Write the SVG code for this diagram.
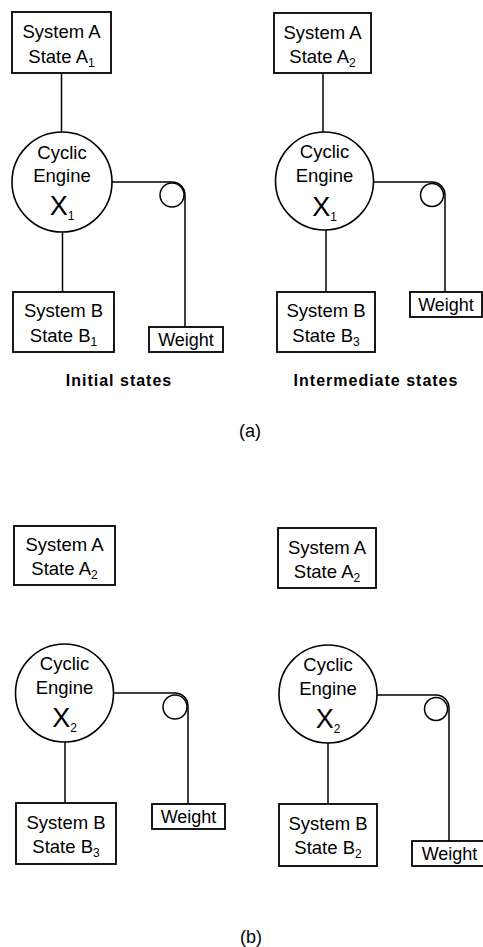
<svg xmlns="http://www.w3.org/2000/svg" width="483" height="947" viewBox="0 0 483 947">
<style>
  .box { fill: #fff; stroke: #000; stroke-width: 1.8; }
  .eng { fill: #fff; stroke: #000; stroke-width: 1.6; }
  .pul { fill: #fff; stroke: #000; stroke-width: 1.5; }
  .ln { fill: none; stroke: #000; stroke-width: 1.5; }
  text { font-family: "Liberation Sans", Arial, sans-serif; fill: #000; text-anchor: middle; }
  .t { font-size: 18.5px; }
  .w { font-size: 18px; }
  .x { font-size: 27px; font-weight: 300; }
  .sub { font-size: 12px; }
  .cap { font-size: 16px; font-weight: bold; letter-spacing: 1px; }
  .lab { font-size: 18px; }
</style>
<rect width="483" height="947" fill="#fff"/>

<g id="connectors">
  <!-- panel 1 -->
  <line class="ln" x1="61.5" y1="73" x2="61.5" y2="132"/>
  <line class="ln" x1="62.5" y1="232" x2="62.5" y2="292"/>
  <path class="ln" d="M112,182 H172 A13,13 0 0 1 185,195 V327"/>
  <!-- panel 2 -->
  <line class="ln" x1="323" y1="73" x2="323" y2="132"/>
  <line class="ln" x1="326" y1="230" x2="326" y2="292"/>
  <path class="ln" d="M373,182 H432 A13,13 0 0 1 445,195 V292"/>
  <!-- panel 3 -->
  <line class="ln" x1="65" y1="742" x2="65" y2="803"/>
  <path class="ln" d="M114,693 H175 A13,13 0 0 1 188,706 V804"/>
  <!-- panel 4 -->
  <line class="ln" x1="328" y1="743" x2="328" y2="804"/>
  <path class="ln" d="M377,695 H436 A13,13 0 0 1 449,708 V841"/>
</g>

<!-- Panel 1: Initial states -->
<g id="p1-sysA">
  <rect class="box" x="12" y="12" width="99" height="61"/>
  <text class="t" x="61.5" y="38">System A</text>
  <text class="t" x="61.5" y="63">State A<tspan class="sub" dy="4">1</tspan></text>
</g>
<g id="p1-engine">
  <circle class="eng" cx="62" cy="182" r="50"/>
  <text class="t" x="62" y="159">Cyclic</text>
  <text class="t" x="62" y="182">Engine</text>
  <text class="x" x="62" y="215">X<tspan class="sub" dy="5">1</tspan></text>
</g>
<g id="p1-pulley"><circle class="pul" cx="172" cy="195" r="12"/></g>
<g id="p1-sysB">
  <rect class="box" x="13" y="292" width="101" height="60"/>
  <text class="t" x="63.5" y="317">System B</text>
  <text class="t" x="63.5" y="342">State B<tspan class="sub" dy="4">1</tspan></text>
</g>
<g id="p1-weight">
  <rect class="box" x="149" y="327" width="74" height="25"/>
  <text class="w" x="186" y="345.5">Weight</text>
</g>
<text id="p1-caption" class="cap" x="119" y="386">Initial states</text>

<!-- Panel 2: Intermediate states -->
<g id="p2-sysA">
  <rect class="box" x="274" y="13" width="97" height="60"/>
  <text class="t" x="322.5" y="39">System A</text>
  <text class="t" x="322.5" y="63">State A<tspan class="sub" dy="4">2</tspan></text>
</g>
<g id="p2-engine">
  <circle class="eng" cx="324.5" cy="181" r="49"/>
  <text class="t" x="324.5" y="158">Cyclic</text>
  <text class="t" x="324.5" y="182">Engine</text>
  <text class="x" x="324.5" y="216">X<tspan class="sub" dy="5">1</tspan></text>
</g>
<g id="p2-pulley"><circle class="pul" cx="432" cy="195" r="11.5"/></g>
<g id="p2-sysB">
  <rect class="box" x="277" y="292" width="98" height="60"/>
  <text class="t" x="326" y="317">System B</text>
  <text class="t" x="326" y="342">State B<tspan class="sub" dy="4">3</tspan></text>
</g>
<g id="p2-weight">
  <rect class="box" x="410" y="292" width="72" height="25"/>
  <text class="w" x="446" y="310.5">Weight</text>
</g>
<text id="p2-caption" class="cap" x="376" y="386">Intermediate states</text>

<text id="label-a" class="lab" x="250" y="437">(a)</text>

<!-- Panel 3 -->
<g id="p3-sysA">
  <rect class="box" x="14" y="526" width="101" height="59"/>
  <text class="t" x="64.5" y="551">System A</text>
  <text class="t" x="64.5" y="575">State A<tspan class="sub" dy="4">2</tspan></text>
</g>
<g id="p3-engine">
  <circle class="eng" cx="64.5" cy="693" r="49"/>
  <text class="t" x="64.5" y="670">Cyclic</text>
  <text class="t" x="64.5" y="694">Engine</text>
  <text class="x" x="64.5" y="727">X<tspan class="sub" dy="5">2</tspan></text>
</g>
<g id="p3-pulley"><circle class="pul" cx="175" cy="707" r="12"/></g>
<g id="p3-sysB">
  <rect class="box" x="16" y="803" width="100" height="61"/>
  <text class="t" x="66" y="829">System B</text>
  <text class="t" x="66" y="853">State B<tspan class="sub" dy="4">3</tspan></text>
</g>
<g id="p3-weight">
  <rect class="box" x="152" y="804" width="73" height="25"/>
  <text class="w" x="188.5" y="822.5">Weight</text>
</g>

<!-- Panel 4 -->
<g id="p4-sysA">
  <rect class="box" x="278" y="528" width="98" height="60"/>
  <text class="t" x="327" y="554">System A</text>
  <text class="t" x="327" y="578">State A<tspan class="sub" dy="4">2</tspan></text>
</g>
<g id="p4-engine">
  <circle class="eng" cx="328" cy="694" r="49"/>
  <text class="t" x="328" y="671">Cyclic</text>
  <text class="t" x="328" y="695">Engine</text>
  <text class="x" x="328" y="728">X<tspan class="sub" dy="5">2</tspan></text>
</g>
<g id="p4-pulley"><circle class="pul" cx="436" cy="709" r="11.5"/></g>
<g id="p4-sysB">
  <rect class="box" x="279" y="804" width="98" height="62"/>
  <text class="t" x="328" y="830">System B</text>
  <text class="t" x="328" y="854">State B<tspan class="sub" dy="4">2</tspan></text>
</g>
<g id="p4-weight">
  <rect class="box" x="412" y="841" width="73" height="25"/>
  <text class="w" x="449.5" y="859.5">Weight</text>
</g>

<text id="label-b" class="lab" x="251" y="943">(b)</text>
</svg>
